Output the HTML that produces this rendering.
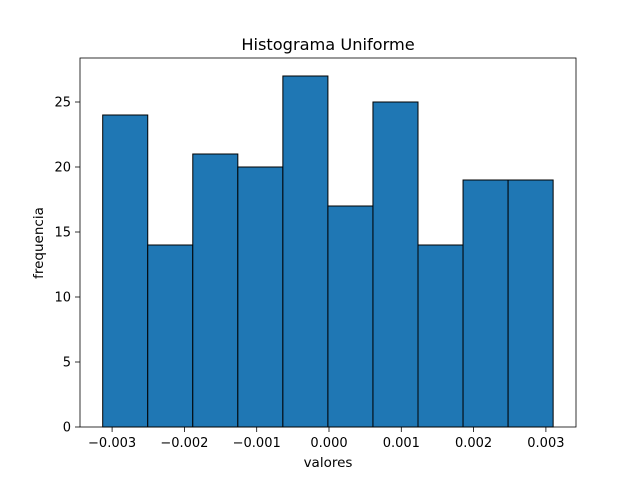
<!DOCTYPE html>
<html><head><meta charset="utf-8"><style>
html,body{margin:0;padding:0;background:#fff;}
svg{display:block;font-family:"DejaVu Sans","Liberation Sans",sans-serif;}
</style></head><body>
<svg id="chart" width="640" height="480" viewBox="0 0 640 480">
<rect x="0" y="0" width="640" height="480" fill="#fff"/>
<text x="328" y="50" font-size="16.2" text-anchor="middle">Histograma Uniforme</text>
<g id="bars"></g>
<g id="xticks"></g>
<g id="yticks"></g>
<rect x="80" y="58" width="496" height="369" fill="none" stroke="#000" stroke-width="0.8"/>
<text x="328" y="467" font-size="13.5" text-anchor="middle">valores</text>
<text x="0" y="0" font-size="13.5" text-anchor="middle" transform="translate(43,243) rotate(-90)">frequencia</text>
</svg>
<script>
const counts = [24,14,21,20,27,17,25,14,19,19];
const binStart = -0.00313;
const binEnd = 0.0031;
const xTickValues = [-0.003,-0.002,-0.001,0,0.001,0.002,0.003];
const xTickLabels = ["\u22120.003","\u22120.002","\u22120.001","0.000","0.001","0.002","0.003"];
const yTickValues = [0,5,10,15,20,25];

const NS="http://www.w3.org/2000/svg";
function X(v){return 329 + v/0.001*72.3;}
function Y(v){return 427 - v*13;}
const bars=document.getElementById('bars');
const w=(binEnd-binStart)/counts.length;
counts.forEach((c,i)=>{
  const r=document.createElementNS(NS,'rect');
  const x0=X(binStart+i*w), x1=X(binStart+(i+1)*w);
  r.setAttribute('x',x0);r.setAttribute('y',Y(c));
  r.setAttribute('width',x1-x0);r.setAttribute('height',Y(0)-Y(c));
  r.setAttribute('fill','#1f77b4');r.setAttribute('stroke','#000');r.setAttribute('stroke-width','1');
  
  
  bars.appendChild(r);
});
const xt=document.getElementById('xticks');
xTickValues.forEach((v,i)=>{
  const x=X(v);
  const l=document.createElementNS(NS,'line');
  l.setAttribute('x1',x);l.setAttribute('x2',x);l.setAttribute('y1',427);l.setAttribute('y2',432);
  l.setAttribute('stroke','#000');l.setAttribute('stroke-width','0.8');
  
  
  xt.appendChild(l);
  const t=document.createElementNS(NS,'text');
  t.setAttribute('x',x);t.setAttribute('y',447);t.setAttribute('font-size','13');t.setAttribute('text-anchor','middle');
  t.textContent=xTickLabels[i];
  
  
  xt.appendChild(t);
});
const yt=document.getElementById('yticks');
yTickValues.forEach(v=>{
  const y=Y(v);
  const l=document.createElementNS(NS,'line');
  l.setAttribute('x1',75);l.setAttribute('x2',80);l.setAttribute('y1',y);l.setAttribute('y2',y);
  l.setAttribute('stroke','#000');l.setAttribute('stroke-width','0.8');
  
  
  yt.appendChild(l);
  const t=document.createElementNS(NS,'text');
  t.setAttribute('x',71);t.setAttribute('y',y+4.5);t.setAttribute('font-size','13');t.setAttribute('text-anchor','end');
  t.textContent=String(v);
  
  
  yt.appendChild(t);
});
</script>
</body></html>
